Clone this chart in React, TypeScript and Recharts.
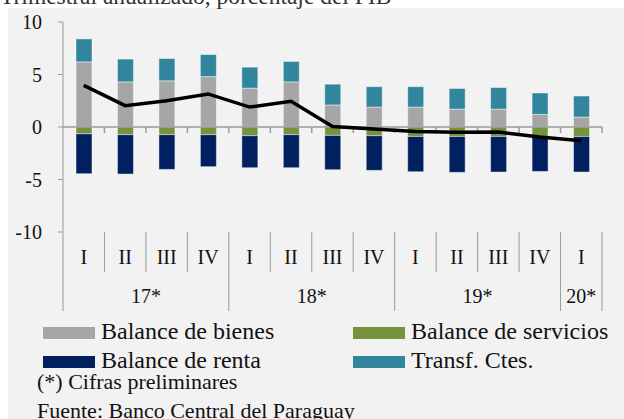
import { ComposedChart, Bar, Line, XAxis, YAxis, ReferenceLine } from "recharts";

const quarters = ["I", "II", "III", "IV", "I", "II", "III", "IV", "I", "II", "III", "IV", "I"];
const years = ["17*", "17*", "17*", "17*", "18*", "18*", "18*", "18*", "19*", "19*", "19*", "19*", "20*"];

const bienes = [6.2, 4.3, 4.4, 4.8, 3.7, 4.3, 2.1, 1.9, 1.9, 1.7, 1.7, 1.2, 0.95];
const servicios = [-0.65, -0.73, -0.73, -0.73, -0.83, -0.73, -0.8, -0.83, -0.9, -0.9, -0.9, -0.9, -0.9];
const renta = [-3.8, -3.75, -3.31, -3.05, -3.05, -3.15, -3.27, -3.3, -3.36, -3.42, -3.39, -3.33, -3.39];
const transf = [2.19, 2.17, 2.12, 2.1, 2.0, 1.94, 1.98, 1.94, 1.94, 1.97, 2.06, 2.04, 2.0];
const cuenta = [3.96, 2.03, 2.5, 3.15, 1.9, 2.45, 0.05, -0.2, -0.42, -0.5, -0.48, -0.95, -1.3];

const yTicks = [-10, -5, 0, 5, 10];

const data = quarters.map((q, i) => ({
  key: `${years[i]}-${q}-${i}`,
  q,
  year: years[i],
  bienes: bienes[i],
  servicios: servicios[i],
  renta: renta[i],
  transf: transf[i],
  cuenta: cuenta[i],
}));

const FONT = "'Liberation Serif', 'Times New Roman', serif";
const AXIS = "#9a9a9a";
const COLORS = {
  bienes: "#a6a6a6",
  servicios: "#76923c",
  renta: "#002060",
  transf: "#31859c",
};

const W = 616;
const H = 320;
const MARGIN = { top: 14, right: 22, bottom: 0, left: 0 };
const Y_W = 55;
const PLOT_W = W - MARGIN.left - MARGIN.right - Y_W;

function QuarterTick(props: any) {
  const { x, y, payload } = props;
  const i = payload.index as number;
  const band = PLOT_W / quarters.length;
  const left = x - band / 2;
  const first = i === 0 || years[i] !== years[i - 1];
  const last = i === quarters.length - 1;

  let start = i;
  while (start > 0 && years[start - 1] === years[i]) start--;
  let end = i;
  while (end < years.length - 1 && years[end + 1] === years[i]) end++;
  const n = end - start + 1;
  const pos = i - start;
  const showYear = pos === Math.floor((n - 1) / 2);
  const yearX = x + ((n - 1) / 2 - pos) * band;

  return (
    <g>
      <line x1={left} x2={left} y1={y} y2={first ? y + 79 : y + 40} stroke={AXIS} />
      {last && <line x1={x + band / 2} x2={x + band / 2} y1={y} y2={y + 79} stroke={AXIS} />}
      <text x={x} y={y + 32} textAnchor="middle" fontSize={20} fontFamily={FONT} fill="#111">
        {quarters[i]}
      </text>
      {showYear && (
        <text x={yearX} y={y + 71} textAnchor="middle" fontSize={20} fontFamily={FONT} fill="#111">
          {years[i]}
        </text>
      )}
    </g>
  );
}

function ZeroAxis(props: any) {
  const { x1, x2, y1 } = props;
  const band = (x2 - x1) / quarters.length;
  return (
    <g>
      <line x1={x1} x2={x2} y1={y1} y2={y1} stroke={AXIS} strokeWidth={1.5} />
      {quarters.map((_, i) => (
        <line
          key={i}
          x1={x1 + band * (i + 1)}
          x2={x1 + band * (i + 1)}
          y1={y1}
          y2={y1 + 6}
          stroke={AXIS}
          strokeWidth={1.5}
        />
      ))}
    </g>
  );
}

// page coordinates
const legendItems = [
  { label: "Balance de bienes", color: COLORS.bienes, x: 43, y: 339 },
  { label: "Balance de servicios", color: COLORS.servicios, x: 353, y: 339 },
  { label: "Balance de renta", color: COLORS.renta, x: 43, y: 368 },
  { label: "Transf. Ctes.", color: COLORS.transf, x: 353, y: 368 },
];

export default function App() {
  const barStroke = "rgba(255,255,255,0.45)";
  return (
    <div style={{ position: "fixed", left: 0, top: 0, width: 624, height: 419, background: "#fff", overflow: "hidden" }}>
      <div style={{ position: "absolute", left: 8, top: 8, width: W, height: 411, background: "#f2f2f2" }}>
        <ComposedChart width={W} height={H} data={data} margin={MARGIN} stackOffset="sign">
          <XAxis
            dataKey="key"
            interval={0}
            axisLine={false}
            tickLine={false}
            tickSize={0}
            tickMargin={0}
            height={H - MARGIN.top - 210}
            tick={<QuarterTick />}
          />
          <YAxis
            width={Y_W}
            domain={[-10, 10]}
            ticks={yTicks}
            stroke={AXIS}
            tickSize={5}
            tickMargin={16}
            tick={{ fontSize: 20, fontFamily: FONT, fill: "#111" }}
          />
          <Bar dataKey="bienes" stackId="a" fill={COLORS.bienes} stroke={barStroke} barSize={16} isAnimationActive={false} />
          <Bar dataKey="servicios" stackId="a" fill={COLORS.servicios} stroke={barStroke} barSize={16} isAnimationActive={false} />
          <Bar dataKey="renta" stackId="a" fill={COLORS.renta} stroke={barStroke} barSize={16} isAnimationActive={false} />
          <Bar dataKey="transf" stackId="a" fill={COLORS.transf} stroke={barStroke} barSize={16} isAnimationActive={false} />
          <ReferenceLine y={0} shape={<ZeroAxis />} />
          <Line dataKey="cuenta" stroke="#000" strokeWidth={3.5} dot={false} type="linear" isAnimationActive={false} />
        </ComposedChart>
      </div>
      <svg width={624} height={419} style={{ position: "absolute", left: 0, top: 0, pointerEvents: "none" }}>
        <text x={0} y={4} fontSize={23.5} fontFamily={FONT} fill="#333">
          Trimestral anualizado, porcentaje del PIB
        </text>
        {legendItems.map((it) => (
          <g key={it.label}>
            <rect x={it.x} y={it.y - 12} width={52} height={12} fill={it.color} />
            <text x={it.x + 58} y={it.y} fontSize={24} fontFamily={FONT} fill="#111">
              {it.label}
            </text>
          </g>
        ))}
        <text x={37} y={389} fontSize={22} fontFamily={FONT} fill="#111">
          (*) Cifras preliminares
        </text>
        <text x={37} y={418} fontSize={22} fontFamily={FONT} fill="#111">
          Fuente: Banco Central del Paraguay
        </text>
      </svg>
    </div>
  );
}
